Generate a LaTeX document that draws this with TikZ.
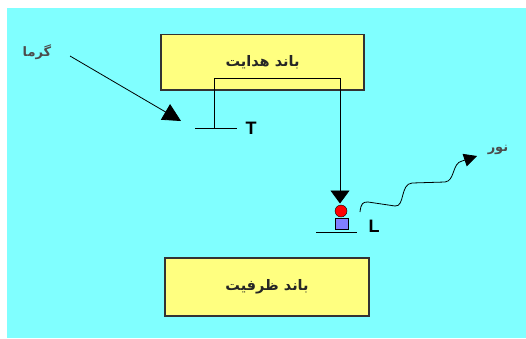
\documentclass[tikz,border=0pt]{standalone}
\usepackage{fontspec}
\setmainfont{Liberation Sans}
\newfontfamily\arabicfont[Script=Arabic]{DejaVu Sans}
\TeXXeTstate=1
\usetikzlibrary{arrows.meta}
\definecolor{bgcyan}{RGB}{128,255,255}
\definecolor{bandyellow}{RGB}{255,255,128}
\definecolor{holeblue}{RGB}{128,128,255}
\tikzset{
    band/.style={draw=black!80, line width=1.1pt, fill=bandyellow, inner sep=0pt, font=\arabicfont\bfseries\fontsize{14.5}{16}\selectfont, text=black!85},
    lbl/.style={font=\arabicfont\bfseries\fontsize{13}{15}\selectfont, text=black!70},
    lvl/.style={font=\bfseries\fontsize{18}{20}\selectfont, inner sep=0pt},
    bigtip/.style={-{Triangle[length=#1,width=#1]}}
}
\begin{document}
\begin{tikzpicture}[x=1pt, y=-1pt, line width=0.8pt]
        \useasboundingbox (0,0) rectangle (526,338);
        \fill[bgcyan] (7,8) rectangle (526,338);
        % bands
        \node[band, minimum width=203pt, minimum height=55.5pt] (cond) at (262.5,62.25) {\raisebox{3pt}{\beginR باند هدایت\endR}};
        \node[band, minimum width=204pt, minimum height=58pt] (val) at (267,287) {\beginR باند ظرفیت\endR};
        % trap level T
        \coordinate (tleft) at (195,128.5);
        \coordinate (tright) at (237,128.5);
        \coordinate (tup) at (214,128.5);
        \coordinate (ttop) at (214,78);
        \draw (tleft) -- (tright);
        \node[lvl] (tlab) at (251,128) {T};
        % heat
        \node[lbl] (heat) at (37,52) {\beginR گرما\endR};
        \coordinate (heatstart) at (70,56);
        \coordinate (heatend) at (181,121);
        \draw[bigtip=18pt] (heatstart) -- (heatend);
        % level L with electron and hole
        \coordinate (lleft) at (316,232);
        \coordinate (lright) at (357,232);
        \draw (lleft) -- (lright);
        \node[lvl] (llab) at (374,226) {L};
        \node[draw, circle, fill=red, minimum size=12pt, inner sep=0pt, line width=0.4pt] (elec) at (341,211) {};
        \node[draw, fill=holeblue, minimum width=12.5pt, minimum height=10.5pt, inner sep=0pt, line width=0.6pt] (hole) at (341.75,223.75) {};
        \coordinate (jumpend) at (340,203.5);
        \draw[-{Triangle[length=13pt,width=19pt]}] (tup) -- (ttop) -| (jumpend);
        % light
        \coordinate (wstart) at (360,212);
        \coordinate (wend) at (477,156);
        \draw[bigtip=13pt] (wstart) .. controls (361,203) and (363,202) .. (368,202) -- (395,206) .. controls (405,207) and (400,184) .. (412,183) -- (445,182) .. controls (455,181) and (452,163) .. (462,161) -- (wend);
        \node[lbl] (light) at (498,150) {\beginR نور\endR};
    \end{tikzpicture}
\end{document}
